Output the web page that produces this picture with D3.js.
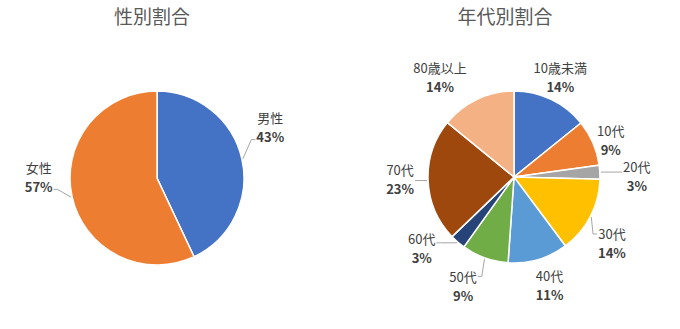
<!DOCTYPE html>
<html>
<head>
<meta charset="utf-8">
<script src="https://cdn.jsdelivr.net/npm/d3@7"></script>
<style>
  body { margin: 0; background: #fff; }
  text { font-family: "Noto Sans CJK JP", "Noto Sans", sans-serif; }
</style>
</head>
<body>
<div id="chart"></div>
<script>
"use strict";

// data: gender split
var genderNames = ["男性", "女性"];
var genderValues = [43, 57];
var genderColors = ["#4472C4", "#ED7D31"];

// data: age split (percent)
var ageNames = ["10歳未満", "10代", "20代", "30代", "40代", "50代", "60代", "70代", "80歳以上"];
var ageValues = [14.2, 8.6, 2.6, 14.4, 11.3, 8.8, 2.9, 23.1, 14.1];
var ageColors = ["#4472C4", "#ED7D31", "#A5A5A5", "#FFC000", "#5B9BD5", "#70AD47", "#264478", "#9E480E", "#F4B183"];

// svg parameters
var svgWidth = 680;
var svgHeight = 329;

var svg = d3.select("#chart").append("svg").attr("width", svgWidth).attr("height", svgHeight);

// label nudges away from the plain centroid (Excel places them by hand-ish)
var genderNudge = [[4, -26], [-9, -25]];
var ageNudge = [[-2, 2], [-6, 8], [11, 6], [-1.5, 15.5], [4, 1.5], [-13, 4], [-19, -13], [-2, -2], [-26, 2]];

drawPie({title: "性別割合", titleX: 152, cx: 157, cy: 178, r: 87,
         names: genderNames, values: genderValues, colors: genderColors, nudge: genderNudge});
drawPie({title: "年代別割合", titleX: 505, cx: 514, cy: 177, r: 86,
         names: ageNames, values: ageValues, colors: ageColors, nudge: ageNudge});

function drawPie(cfg) {
    var total = d3.sum(cfg.values);
    var fmt = d3.format(".0%");
    var labelRadius = 112;

    svg.append("text")
        .attr("x", cfg.titleX).attr("y", 24)
        .attr("text-anchor", "middle")
        .attr("font-size", 19)
        .attr("fill", "#595959")
        .text(cfg.title);

    var pie = d3.pie().sort(null).value(function (d) { return d; });
    var arcs = pie(cfg.values);
    var arc = d3.arc().innerRadius(0).outerRadius(cfg.r);

    var g = svg.append("g").attr("transform", "translate(" + cfg.cx + "," + cfg.cy + ")");

    g.selectAll("path").data(arcs).enter()
        .append("path")
        .attr("d", arc)
        .attr("fill", function (d, i) { return cfg.colors[i]; })
        .attr("stroke", "#fff")
        .attr("stroke-width", 1.5);

    arcs.forEach(function (d, i) {
        var mid = (d.startAngle + d.endAngle) / 2;
        var lx = labelRadius * Math.sin(mid) + cfg.nudge[i][0];
        var ly = -labelRadius * Math.cos(mid) + cfg.nudge[i][1];

        var lab = g.append("g").attr("fill", "#404040").attr("font-size", 13).attr("text-anchor", "middle");
        var t1 = lab.append("text").attr("x", lx).attr("y", ly - 4.5).text(cfg.names[i]);
        var t2 = lab.append("text").attr("x", lx).attr("y", ly + 14.5).attr("font-weight", "bold")
            .text(fmt(d.data / total));

        // label box
        var w = Math.max(t1.node().getComputedTextLength(), t2.node().getComputedTextLength());
        var left = lx - w / 2 - 1, right = lx + w / 2 + 1, top = ly - 18, bottom = ly + 18;

        // leader line from slice edge to label when label sits away from the slice
        var sx = (cfg.r + 1) * Math.sin(mid), sy = -(cfg.r + 1) * Math.cos(mid);
        var ex = Math.max(left, Math.min(right, sx));
        var ey = Math.max(top, Math.min(bottom, sy));
        var dist = Math.hypot(ex - sx, ey - sy);
        if (dist < 10) return;

        var pts;
        if (sx < left || sx > right) {
            var side = sx < left ? left : right;
            var yy = Math.max(top + 8, Math.min(bottom - 6, sy));
            var elbow = sx < left ? side - 4 : side + 4;
            pts = [[sx, sy], [elbow, yy], [side, yy]];
        } else {
            var edgeY = sy > bottom ? bottom : top;
            pts = [[sx, sy], [right + 1, edgeY]];
        }
        g.append("path")
            .attr("d", d3.line()(pts))
            .attr("fill", "none")
            .attr("stroke", "#A6A6A6")
            .attr("stroke-width", 1);
    });
}
</script>
</body>
</html>
